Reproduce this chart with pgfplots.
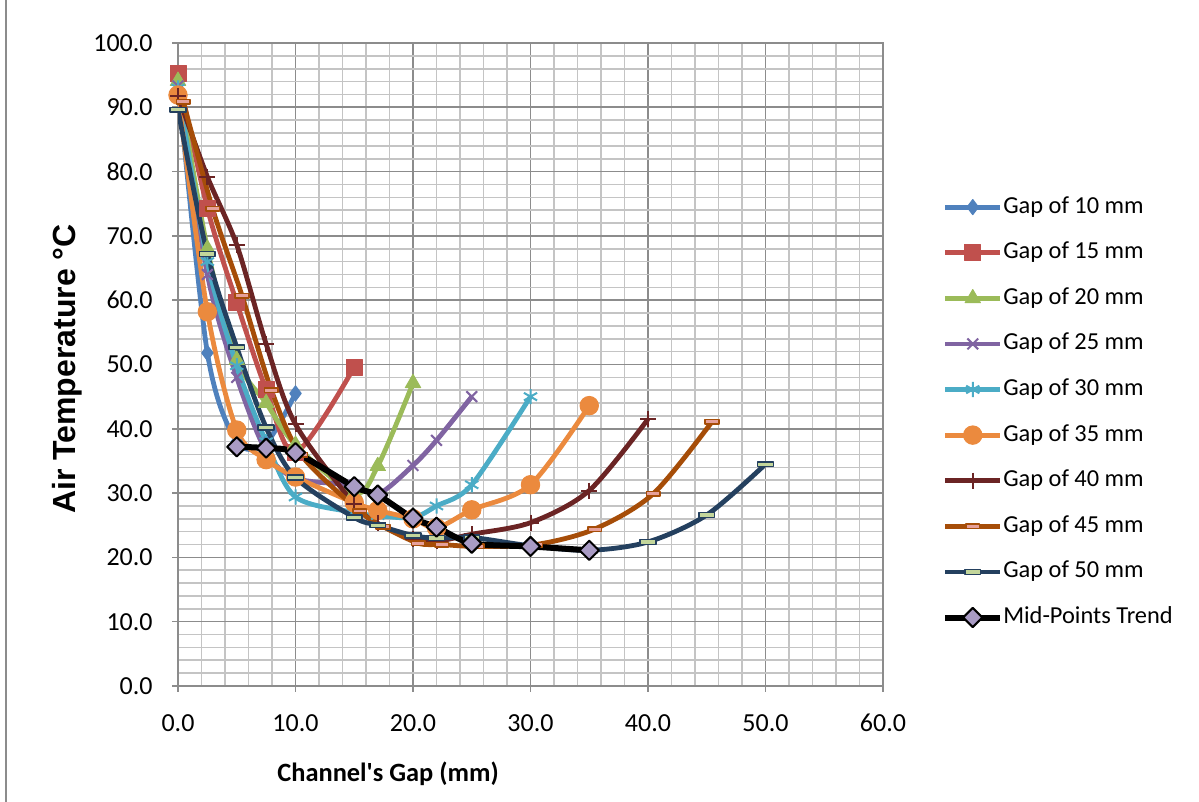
\documentclass[border=0pt]{standalone}
\usepackage{fontspec}
\setmainfont{Carlito}
\newfontfamily\labfont{Liberation Sans}
\usepackage{pgfplots}
\pgfplotsset{compat=1.18}
\definecolor{cA}{HTML}{4F81BD}
\definecolor{cB}{HTML}{C0504D}
\definecolor{cC}{HTML}{9BBB59}
\definecolor{cD}{HTML}{8064A2}
\definecolor{cE}{HTML}{4BACC6}
\definecolor{cF}{HTML}{EB8A3E}
\definecolor{cG}{HTML}{6B2424}
\definecolor{cH}{HTML}{A64D08}
\definecolor{cI}{HTML}{24405F}
\definecolor{pinkfill}{HTML}{E6A09A}
\definecolor{greenfill}{HTML}{C3D69B}
\definecolor{midfill}{HTML}{A99BC4}
\definecolor{gridmaj}{HTML}{8C8C8C}
\definecolor{gridmin}{HTML}{C4C4C4}
\newcommand{\sq}{{\XeTeXglyph\XeTeXcharglyph"0027\relax}}
\begin{document}
\begin{tikzpicture}[x=1pt,y=1pt]
\path[use as bounding box] (0,0) rectangle (599.5,401);
\draw[color=gridmaj, line width=0.8pt] (3,0) -- (3,401);
\begin{axis}[
  at={(89pt,58pt)}, anchor=south west,
  scale only axis, width=352.5pt, height=321.5pt,
  xmin=0, xmax=60, ymin=0, ymax=100,
  xtick={0,10,...,60}, ytick={0,10,...,100},
  minor x tick num=4, minor y tick num=4,
  grid=both,
  major grid style={color=gridmaj, line width=0.8pt},
  minor grid style={color=gridmin, line width=0.8pt},
  axis line style={color=gridmaj, line width=0.8pt},
  tick align=outside, xtick pos=bottom, ytick pos=left,
  major tick length=3pt, minor tick length=0pt,
  tick style={color=gridmaj, line width=0.8pt},
  /pgf/number format/assume math mode=true,
  xticklabel style={/pgf/number format/fixed, /pgf/number format/fixed zerofill, /pgf/number format/precision=1, anchor=north, inner sep=0pt, yshift=-11pt},
  yticklabel style={/pgf/number format/fixed, /pgf/number format/fixed zerofill, /pgf/number format/precision=1, anchor=east, inner sep=0pt, xshift=-9.5pt},
  tick label style={font=\fontsize{13}{15}\selectfont, color=black},
  xlabel={Channel\sq s Gap (mm)},
  xlabel style={font=\bfseries\fontsize{13.2}{15}\selectfont, at={(axis description cs:0.298,-0.149)}, anchor=base},
  ylabel={\labfont\bfseries Air Temperature °C},
  ylabel style={font=\fontsize{16}{18}\selectfont, at={(axis description cs:-0.157,0.493)}, anchor=center},
  legend style={at={(axis description cs:1.0835,0.7625)}, anchor=north west, draw=none, fill=none,
    font=\fontsize{12.2}{14}\selectfont, row sep=11.8pt, inner sep=0pt,
    nodes={inner sep=0pt, text height=8.5pt, text depth=2.5pt},
    /tikz/every even column/.append style={column sep=2pt}},
  legend cell align=left,
  legend image code/.code={\draw[mark repeat=2,mark phase=2,#1] plot coordinates {(0pt,0pt) (13.75pt,0pt) (27.5pt,0pt)};},
  every axis plot/.append style={smooth, tension=0.5, line width=2.4pt, line join=round},
]
% Gap of 10 mm
\addplot[color=cA, mark=diamond*, mark size=3.8pt, mark options={solid, fill=cA, draw=cA, line width=0.5pt}]
  coordinates {(0,94.0) (2.5,51.8) (5,38.0) (7.5,37.8) (10,45.5)};
\addlegendentry{Gap of 10 mm}
% Gap of 15 mm
\addplot[color=cB, mark=square*, mark size=4pt, mark options={solid, fill=cB, draw=cB, line width=0.5pt}]
  coordinates {(0,95.2) (2.5,74.3) (5,59.6) (7.5,46.1) (10,36.3) (15,49.6)};
\addlegendentry{Gap of 15 mm}
% Gap of 20 mm
\addplot[color=cC, mark=triangle*, mark size=4.4pt, mark options={solid, fill=cC, draw=cC, line width=0.5pt}]
  coordinates {(0,94.1) (2.5,68.0) (5,50.7) (7.5,44.0) (10,37.5) (15,30.0) (17,34.2) (20,47.1)};
\addlegendentry{Gap of 20 mm}
% Gap of 25 mm
\addplot[color=cD, mark=x, mark size=3.8pt, mark options={solid, line width=1pt}]
  coordinates {(0,93.3) (2.5,64.0) (5,48.0) (7.5,36.5) (10,32.3) (15,31.2) (17,29.8) (20,34.3) (22,38.2) (25,45.0)};
\addlegendentry{Gap of 25 mm}
% Gap of 30 mm
\addplot[color=cE, mark=asterisk, mark size=3.8pt, mark options={solid, line width=1pt}]
  coordinates {(0,93.0) (2.5,66.0) (5,49.8) (7.5,38.0) (10,29.4) (15,27.0) (17,26.5) (20,26.2) (22,28.0) (25,31.3) (30,45.0)};
\addlegendentry{Gap of 30 mm}
% Gap of 35 mm
\addplot[color=cF, mark=*, mark size=4.6pt, mark options={solid, fill=cF, draw=cF, line width=0.5pt}]
  coordinates {(0,91.9) (2.5,58.2) (5,39.8) (7.5,35.2) (10,32.5) (15,28.5) (17,27.3) (20,26.0) (22,24.6) (25,27.4) (30,31.3) (35,43.6)};
\addlegendentry{Gap of 35 mm}
% Gap of 40 mm
\addplot[color=cG, mark=+, mark size=4pt, mark options={solid, line width=1pt}]
  coordinates {(0,91.8) (2.5,79.2) (5,68.6) (7.5,53.2) (10,40.7) (15,28.3) (17,25.3) (20,22.8) (22,22.5) (25,23.6) (30,25.4) (35,30.4) (40,41.5)};
\addlegendentry{Gap of 40 mm}
% Gap of 45 mm
\addplot[color=cH, mark=square*, mark size=2pt, mark options={solid, xscale=1.7, yscale=0.55, fill=pinkfill, draw=cH, line width=0.8pt}]
  coordinates {(0.45,90.9) (2.95,74.2) (5.45,60.7) (7.95,46.0) (10.45,36.0) (15.45,27.2) (17.45,24.8) (20.45,22.2) (22.45,22.0) (25.45,21.7) (30.45,22.0) (35.45,24.4) (40.45,29.9) (45.45,41.1)};
\addlegendentry{Gap of 45 mm}
% Gap of 50 mm
\addplot[color=cI, mark=square*, mark size=2.2pt, mark options={solid, xscale=1.8, yscale=0.55, fill=greenfill, draw=cI, line width=0.8pt}]
  coordinates {(0,89.6) (2.5,67.2) (5,52.7) (7.5,40.2) (10,32.4) (15,26.2) (17,25.0) (20,23.4) (22,23.0) (25,23.1) (30,21.8) (35,21.1) (40,22.4) (45,26.6) (50,34.5)};
\addlegendentry{Gap of 50 mm}
% Mid-Points Trend
\addplot[color=black, line width=3pt, mark=square*, mark size=3.4pt, mark options={solid, rotate=45, fill=midfill, draw=black, line width=1pt}]
  coordinates {(5,37.2) (7.5,37.0) (10,36.3) (15,31.0) (17,29.7) (20,26.1) (22,24.7) (25,22.2) (30,21.7) (35,21.1)};
\addlegendentry{Mid-Points Trend}
\end{axis}
\end{tikzpicture}
\end{document}
